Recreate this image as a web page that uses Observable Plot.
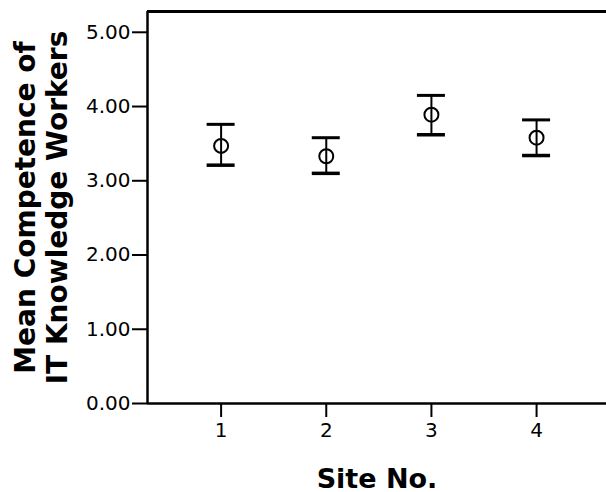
<!DOCTYPE html>
<html>
<head>
<meta charset="utf-8">
<script src="https://cdn.jsdelivr.net/npm/d3@7"></script>
<script src="https://cdn.jsdelivr.net/npm/@observablehq/plot@0.6"></script>
<style>
  html, body { margin: 0; padding: 0; background: #fff; }
</style>
</head>
<body>
<div id="chart"></div>
<script>
const sites = [1, 2, 3, 4];
const means = [3.47, 3.33, 3.89, 3.58];
const lower = [3.21, 3.10, 3.62, 3.34];
const upper = [3.76, 3.58, 4.15, 3.82];
const xTicks = [1, 2, 3, 4];
const yTicks = [0, 1, 2, 3, 4, 5];
const xLabel = "Site No.";
const yLabel = "Mean Competence of\nIT Knowledge Workers";

const data = sites.map((s, i) => ({site: s, mean: means[i], lo: lower[i], hi: upper[i]}));
const xDomain = [0.3, 4.665];
const yDomain = [0, 5.28];

const chart = Plot.plot({
  width: 606,
  height: 492,
  marginLeft: 147,
  marginRight: 0,
  marginTop: 11,
  marginBottom: 89,
  style: {fontFamily: "DejaVu Sans", background: "#fff", color: "#000"},
  x: {domain: xDomain},
  y: {domain: yDomain},
  marks: [
    Plot.axisX({ticks: xTicks, tickSize: 14, tickPadding: 5, fontSize: 20, strokeWidth: 2, tickFormat: d3.format("d"), label: null}),
    Plot.axisY({ticks: yTicks, tickSize: 15, tickPadding: 2, fontSize: 20, strokeWidth: 2, tickFormat: d3.format(".2f"), label: null}),
    Plot.ruleY([yDomain[0]], {stroke: "#000", strokeWidth: 2.5}),
    Plot.ruleY([yDomain[1]], {stroke: "#000", strokeWidth: 3}),
    Plot.ruleX([xDomain[0]], {stroke: "#000", strokeWidth: 2.5}),
    Plot.ruleX(data, {x: "site", y1: "lo", y2: "hi", stroke: "#000", strokeWidth: 2}),
    Plot.ruleY(data, {y: "hi", x1: "site", x2: "site", insetLeft: -14, insetRight: -14, stroke: "#000", strokeWidth: 3}),
    Plot.ruleY(data, {y: "lo", x1: "site", x2: "site", insetLeft: -14, insetRight: -14, stroke: "#000", strokeWidth: 3.5}),
    Plot.dot(data, {x: "site", y: "mean", r: 7, stroke: "#000", strokeWidth: 2, fill: "none"}),
    Plot.text([yLabel], {frameAnchor: "left", textAnchor: "middle", dx: -147 + 40, rotate: -90, lineAnchor: "middle", lineHeight: 1.15, fontSize: 28, fontWeight: "bold", fill: "#000"}),
    Plot.text([xLabel], {frameAnchor: "bottom", dy: 84, lineAnchor: "bottom", fontSize: 27, fontWeight: "bold", fill: "#000"})
  ]
});
document.getElementById("chart").appendChild(chart);
</script>
</body>
</html>
